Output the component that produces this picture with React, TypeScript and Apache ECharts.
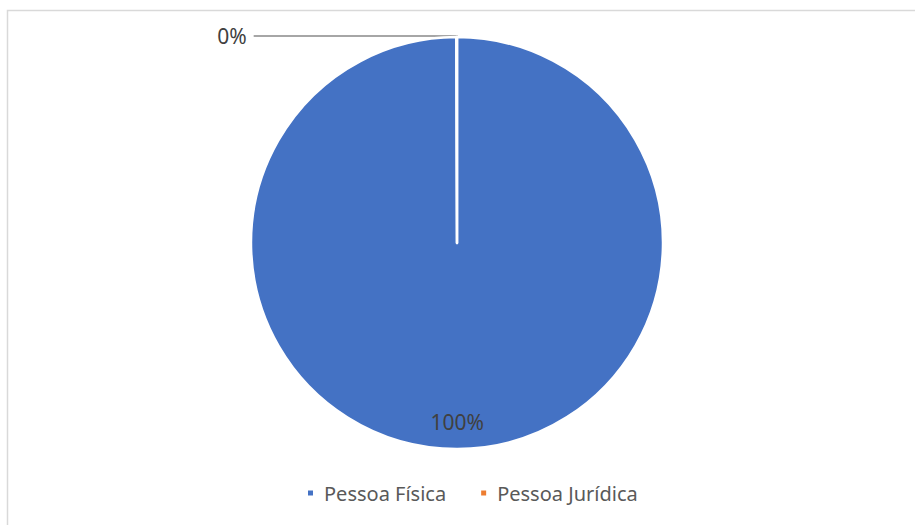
import React, { useEffect, useRef } from "react";
import * as echarts from "echarts";

const categories = ["Pessoa Física", "Pessoa Jurídica"];
const values = [99.95, 0.05];
const colors = ["#4472C4", "#ED7D31"];

export default function App() {
  const ref = useRef<HTMLDivElement>(null);
  useEffect(() => {
    if (!ref.current) return;
    const chart = echarts.init(ref.current, undefined, { renderer: "svg" });
    const font = "'Noto Sans', sans-serif";
    chart.setOption({
      animation: false,
      backgroundColor: "#ffffff",
      color: colors,
      graphic: [
        {
          type: "rect",
          shape: { x: 7.5, y: 10.5, width: 940, height: 540 },
          style: { fill: "none", stroke: "#d9d9d9", lineWidth: 1.5 },
          silent: true,
        },
      ],
      legend: {
        left: 306,
        top: 483,
        padding: 0,
        icon: "rect",
        itemWidth: 7,
        itemHeight: 7,
        itemGap: 33,
        textStyle: { color: "#595959", fontSize: 20, fontFamily: font, padding: [0, 0, 0, 5] },
        data: categories,
      },
      series: [
        {
          type: "pie",
          center: [457, 243],
          radius: 206,
          startAngle: 90,
          clockwise: true,
          avoidLabelOverlap: false,
          itemStyle: { borderColor: "#ffffff", borderWidth: 2.5 },
          label: {
            color: "#404040",
            fontSize: 21,
            fontFamily: font,
            formatter: (p: any) => Math.round(p.percent) + "%",
          },
          labelLine: { lineStyle: { color: "#a6a6a6", width: 2 } },
          labelLayout: (p: any) => (p.dataIndex === 0 ? { dy: 73 } : {}),
          data: categories.map((name, i) => ({
            name,
            value: values[i],
            label:
              i === 0
                ? { position: "inside" }
                : { position: "outside", distanceToLabelLine: 7 },
            labelLine:
              i === 0 ? { show: false } : { show: true, length: 1, length2: 203, smooth: false },
          })),
        },
      ],
    });
    return () => chart.dispose();
  }, []);
  return (
    <div
      ref={ref}
      style={{ position: "fixed", left: 0, top: 0, width: 915, height: 525 }}
    />
  );
}
